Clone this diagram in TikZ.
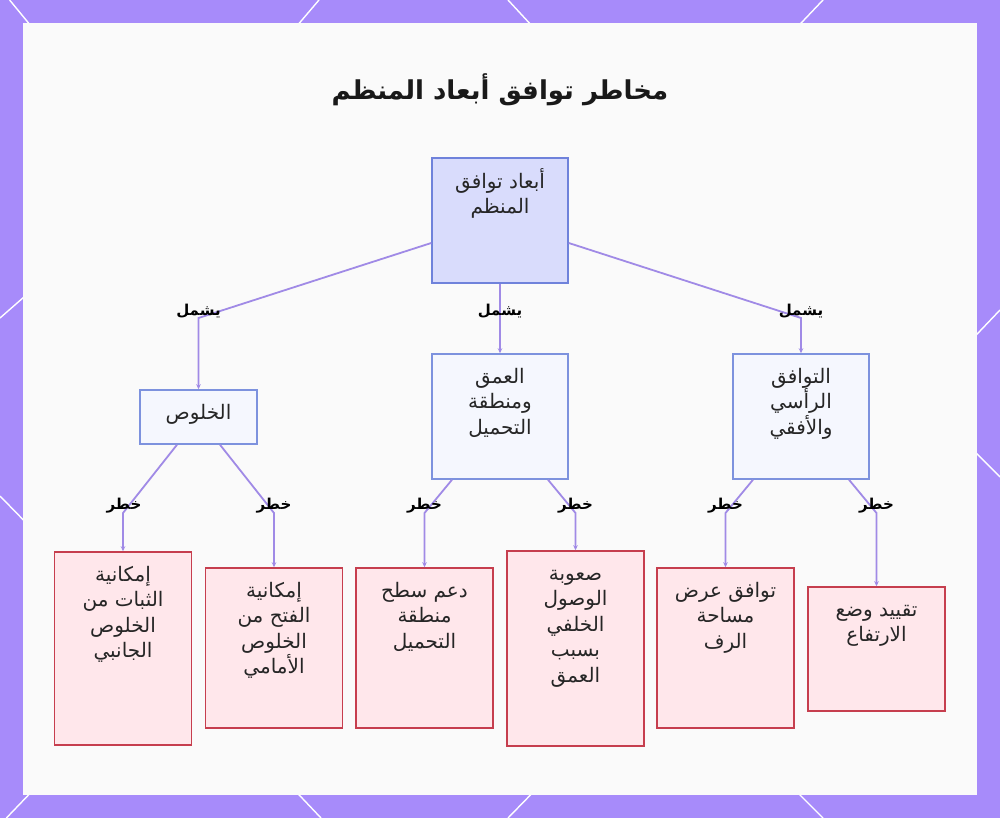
\documentclass[tikz,border=0pt]{standalone}
\usepackage{fontspec}
\usetikzlibrary{arrows.meta,positioning}
\newfontfamily\arabicfont[Script=Arabic]{DejaVu Sans}
\TeXXeTstate=1
\newcommand{\artext}[1]{\beginR #1\endR}
\newcommand{\topstrut}{\rule{0pt}{24pt}}
\definecolor{bgpurple}{HTML}{A78BFA}
\definecolor{panelwhite}{HTML}{FAFAFA}
\definecolor{linkpurple}{HTML}{A08AE6}
\definecolor{rootfill}{HTML}{D9DCFC}
\definecolor{rootline}{HTML}{6F82DB}
\definecolor{dimfill}{HTML}{F5F7FE}
\definecolor{dimline}{HTML}{7D92DE}
\definecolor{riskfill}{HTML}{FFE7EB}
\definecolor{riskline}{HTML}{C63E4E}

\begin{document}
\begin{tikzpicture}[x=1pt, y=-1pt, >={Stealth[length=5pt,width=4.5pt]},
  txt/.style={font=\arabicfont\fontsize{20}{25.5}\selectfont, text=black!85, align=center, inner sep=0pt, anchor=north},
  tag/.style={font=\arabicfont\bfseries\fontsize{15}{17}\selectfont, text=black, inner sep=0pt},
  rootbox/.style={draw=rootline, fill=rootfill, line width=1.5pt, minimum width=136pt, minimum height=125pt},
  dimbox/.style={draw=dimline, fill=dimfill, line width=1.5pt, minimum width=136pt, minimum height=125pt},
  riskbox/.style={draw=riskline, fill=riskfill, line width=1.5pt, minimum width=137pt},
  link/.style={draw=linkpurple, line width=1.8pt, ->},
  hexline/.style={draw=white, line width=1.4pt}]
\useasboundingbox (0,0) rectangle (1000,818);

% background and panel
\fill[bgpurple] (0,0) rectangle (1000,818);
\draw[hexline] (9.6,0) -- (40,37);
\draw[hexline] (319,0) -- (285,40);
\draw[hexline] (508,0) -- (545,40);
\draw[hexline] (823,0) -- (785,40);
\draw[hexline] (0,318) -- (40,283);
\draw[hexline] (0,496) -- (40,537);
\draw[hexline] (1000,310) -- (960,352);
\draw[hexline] (1000,477) -- (960,437);
\draw[hexline] (6.4,818) -- (40,783);
\draw[hexline] (321,818) -- (285,780);
\draw[hexline] (508,818) -- (545,780);
\draw[hexline] (823,818) -- (785,780);
\fill[panelwhite] (23,23) rectangle (977,795);

% title
\node[font=\arabicfont\bfseries\fontsize{26}{32}\selectfont, text=black!90] (title) at (500,90) {\artext{مخاطر توافق أبعاد المنظم}};

% boxes
\node[rootbox] (root) at (500,220.5) {};
\node[txt, below=7pt of root.north] (roott) {\topstrut\artext{أبعاد توافق}\\\artext{المنظم}};

\node[dimbox, minimum width=117pt, minimum height=54pt] (cl) at (198.5,417) {};
\node[txt, below=6pt of cl.north] (clt) {\topstrut\artext{الخلوص}};
\node[dimbox] (dp) at (500,416.5) {};
\node[txt, below=6pt of dp.north] (dpt) {\topstrut\artext{العمق}\\\artext{ومنطقة}\\\artext{التحميل}};
\node[dimbox] (vh) at (801,416.5) {};
\node[txt, below=6pt of vh.north] (vht) {\topstrut\artext{التوافق}\\\artext{الرأسي}\\\artext{والأفقي}};

\node[riskbox, minimum height=193pt] (r1) at (123,648.5) {};
\node[txt, below=6pt of r1.north] (r1t) {\topstrut\artext{إمكانية}\\\artext{الثبات من}\\\artext{الخلوص}\\\artext{الجانبي}};
\node[riskbox, minimum height=160pt] (r2) at (274,648) {};
\node[txt, below=6pt of r2.north] (r2t) {\topstrut\artext{إمكانية}\\\artext{الفتح من}\\\artext{الخلوص}\\\artext{الأمامي}};
\node[riskbox, minimum height=160pt] (r3) at (424.5,648) {};
\node[txt, below=6pt of r3.north] (r3t) {\topstrut\artext{دعم سطح}\\\artext{منطقة}\\\artext{التحميل}};
\node[riskbox, minimum height=195pt] (r4) at (575.5,648.5) {};
\node[txt, below=6pt of r4.north] (r4t) {\topstrut\artext{صعوبة}\\\artext{الوصول}\\\artext{الخلفي}\\\artext{بسبب}\\\artext{العمق}};
\node[riskbox, minimum height=160pt] (r5) at (725.5,648) {};
\node[txt, below=6pt of r5.north] (r5t) {\topstrut\artext{توافق عرض}\\\artext{مساحة}\\\artext{الرف}};
\node[riskbox, minimum height=124pt] (r6) at (876.5,649) {};
\node[txt, below=6pt of r6.north] (r6t) {\topstrut\artext{تقييد وضع}\\\artext{الارتفاع}};

% connectors
\coordinate (b1) at (198.5,318);
\coordinate (b2) at (500,318);
\coordinate (b3) at (801,318);
\draw[link] ([yshift=-22.5pt]root.west) -- (b1) -- (cl.north);
\draw[link] (root.south) -- (b2) -- (dp.north);
\draw[link] ([yshift=-22.5pt]root.east) -- (b3) -- (vh.north);

\coordinate (c1) at (123,513);
\coordinate (c2) at (274,513);
\coordinate (c3) at (424.5,513);
\coordinate (c4) at (575.5,513);
\coordinate (c5) at (725.5,513);
\coordinate (c6) at (876.5,513);
\draw[link] ([xshift=-21.5pt]cl.south) -- (c1) -- (r1.north);
\draw[link] ([xshift=21.5pt]cl.south) -- (c2) -- (r2.north);
\draw[link] ([xshift=-48pt]dp.south) -- (c3) -- (r3.north);
\draw[link] ([xshift=48pt]dp.south) -- (c4) -- (r4.north);
\draw[link] ([xshift=-48pt]vh.south) -- (c5) -- (r5.north);
\draw[link] ([xshift=48pt]vh.south) -- (c6) -- (r6.north);

% labels
\node[tag] (i1) at (198.5,311) {\artext{يشمل}};
\node[tag] (i2) at (500,311) {\artext{يشمل}};
\node[tag] (i3) at (801,311) {\artext{يشمل}};
\node[tag] (k1) at (124,506) {\artext{خطر}};
\node[tag] (k2) at (274,506) {\artext{خطر}};
\node[tag] (k3) at (424.5,506) {\artext{خطر}};
\node[tag] (k4) at (575.5,506) {\artext{خطر}};
\node[tag] (k5) at (725.5,506) {\artext{خطر}};
\node[tag] (k6) at (876.5,506) {\artext{خطر}};
\end{tikzpicture}
\end{document}
